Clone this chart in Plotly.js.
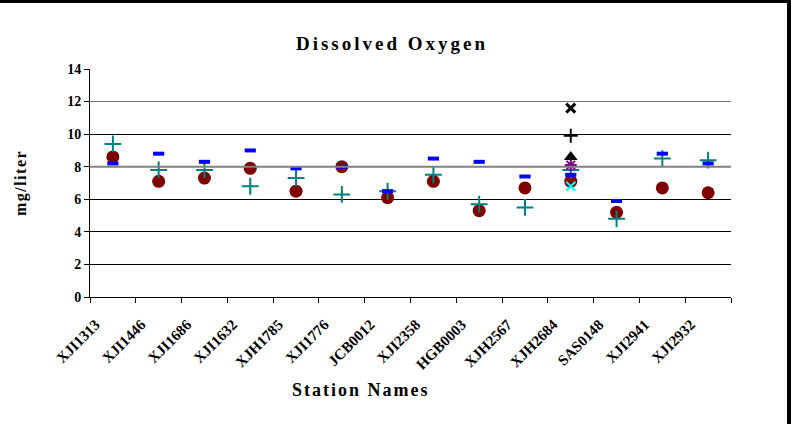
<!DOCTYPE html>
<html>
<head>
<meta charset="utf-8">
<script src="https://cdn.plot.ly/plotly-3.0.1.min.js"></script>
<style>
  html, body { margin: 0; padding: 0; background: #fff; }
  #wrap { position: relative; width: 791px; height: 424px; overflow: hidden; }
  #chart { width: 791px; height: 424px; }
  #frame { position: absolute; left: 0; top: 0; width: 791px; height: 424px; box-sizing: border-box;
           border-top: 3px solid #000; border-right: 4px solid #000; pointer-events: none; }
  .gtitle { letter-spacing: 3px; }
  .annotation-text { letter-spacing: 2px; }
  .ytitle { letter-spacing: 1.5px; }
</style>
</head>
<body>
<div id="wrap"><div id="chart"></div><div id="frame"></div></div>
<script>
// ---- data ----
const stations = ['XJI1313','XJI1446','XJI1686','XJI1632','XJH1785','XJI1776','JCB0012',
                  'XJI2358','HGB0003','XJH2567','XJH2684','SAS0148','XJI2941','XJI2932'];
const circleVals = [8.6, 7.1, 7.3, 7.9, 6.5, 8.0, 6.1, 7.1, 5.3, 6.7, 7.1, 5.2, 6.7, 6.4];
const plusVals   = [9.4, 7.8, 7.8, 6.8, 7.3, 6.3, 6.5, 7.5, 5.7, 5.5, 7.8, 4.8, 8.5, 8.4];
const dashVals   = [8.2, 8.8, 8.3, 9.0, 7.9, 8.0, 6.5, 8.5, 8.3, 7.4, 7.5, 5.9, 8.8, 8.2];
// extra series present only at XJH2684
const blackXVals    = [null,null,null,null,null,null,null,null,null,null,11.6,null,null,null];
const blackPlusVals = [null,null,null,null,null,null,null,null,null,null, 9.9,null,null,null];
const triangleVals  = [null,null,null,null,null,null,null,null,null,null, 8.6,null,null,null];
const starVals      = [null,null,null,null,null,null,null,null,null,null, 8.1,null,null,null];
const cyanXVals     = [null,null,null,null,null,null,null,null,null,null, 6.8,null,null,null];
const yTicks = [0, 2, 4, 6, 8, 10, 12, 14];

const idx = stations.map((s, i) => i);
const serif = 'Liberation Serif, Times New Roman, serif';

function sc(y, symbol, color, size, lw) {
  return { type: 'scatter', mode: 'markers', x: idx, y: y, cliponaxis: false,
    marker: { symbol: symbol, color: color, size: size,
      line: { color: color, width: lw } }, hoverinfo: 'skip', showlegend: false };
}

const traces = [
  sc(circleVals, 'circle', '#800000', 13, 0),
  sc(plusVals, 'cross-thin', '#008080', 12, 2),
  sc(dashVals, 'line-ew', '#0000FF', 8, 4),
  sc(cyanXVals, 'x-thin', '#00FFFF', 9, 2),
  sc(starVals, 'asterisk', '#800080', 10, 2),
  sc(triangleVals, 'triangle-up', '#000000', 12, 0),
  sc(blackPlusVals, 'cross-thin', '#000000', 10, 2),
  sc(blackXVals, 'x-thin', '#000000', 9, 3),
  // invisible trace to activate the label axis
  { type: 'scatter', mode: 'markers', x: idx, y: circleVals, xaxis: 'x2',
    marker: { opacity: 0 }, hoverinfo: 'skip', showlegend: false }
];

const n = stations.length;
const boundaries = [];
for (let i = 0; i <= n; i++) boundaries.push(i - 0.5);

const greyLines = [8, 12].map(v => ({
  type: 'line', xref: 'paper', x0: 0, x1: 1, yref: 'y', y0: v, y1: v,
  line: { color: '#808080', width: v === 8 ? 2 : 1 }, layer: 'above'
}));

const plotL = 90, plotR = 731, plotT = 69, plotB = 297;

const layout = {
  width: 791, height: 424,
  margin: { l: plotL, r: 791 - plotR, t: plotT, b: 424 - plotB },
  paper_bgcolor: '#ffffff', plot_bgcolor: '#ffffff',
  font: { family: serif, color: '#000', weight: 'bold' },
  title: { text: 'Dissolved Oxygen', x: 392 / 791, xanchor: 'center', xref: 'container',
           y: 1 - 43 / 424, yanchor: 'middle', yref: 'container',
           font: { family: serif, size: 19, weight: 'bold', color: '#000' } },
  xaxis: {
    range: [-0.5, n - 0.5], tickmode: 'array', tickvals: boundaries, showticklabels: false,
    ticks: 'outside', ticklen: 5, tickcolor: '#000', tickwidth: 1,
    showline: true, linecolor: '#000', linewidth: 1, showgrid: false, zeroline: false
  },
  xaxis2: {
    overlaying: 'x', matches: 'x', side: 'bottom', anchor: 'y',
    tickmode: 'array', tickvals: idx.map(i => i - 0.38), ticktext: stations,
    tickangle: -45, ticks: '', showline: false, showgrid: false, zeroline: false,
    ticklabelstandoff: 15,
    tickfont: { family: serif, size: 15, weight: 'bold', color: '#000' }
  },
  yaxis: {
    range: [0, 14], tickmode: 'array', tickvals: yTicks,
    ticks: 'outside', ticklen: 5, tickcolor: '#000',
    showline: true, linecolor: '#000', linewidth: 1,
    showgrid: true, gridcolor: '#000', gridwidth: 1, zeroline: false,
    tickfont: { family: serif, size: 14, weight: 'bold', color: '#000' },
    title: { text: 'mg/liter', standoff: 36,
             font: { family: serif, size: 16, weight: 'bold', color: '#000' } },
    automargin: false
  },
  shapes: greyLines,
  annotations: [{
    text: 'Station Names', xref: 'paper', yref: 'paper',
    x: (361 - plotL) / (plotR - plotL), y: (plotB - 390) / (plotB - plotT),
    xanchor: 'center', yanchor: 'middle', showarrow: false,
    font: { family: serif, size: 18, weight: 'bold', color: '#000' }
  }]
};

Plotly.newPlot('chart', traces, layout, { staticPlot: true, displayModeBar: false });
</script>
</body>
</html>
